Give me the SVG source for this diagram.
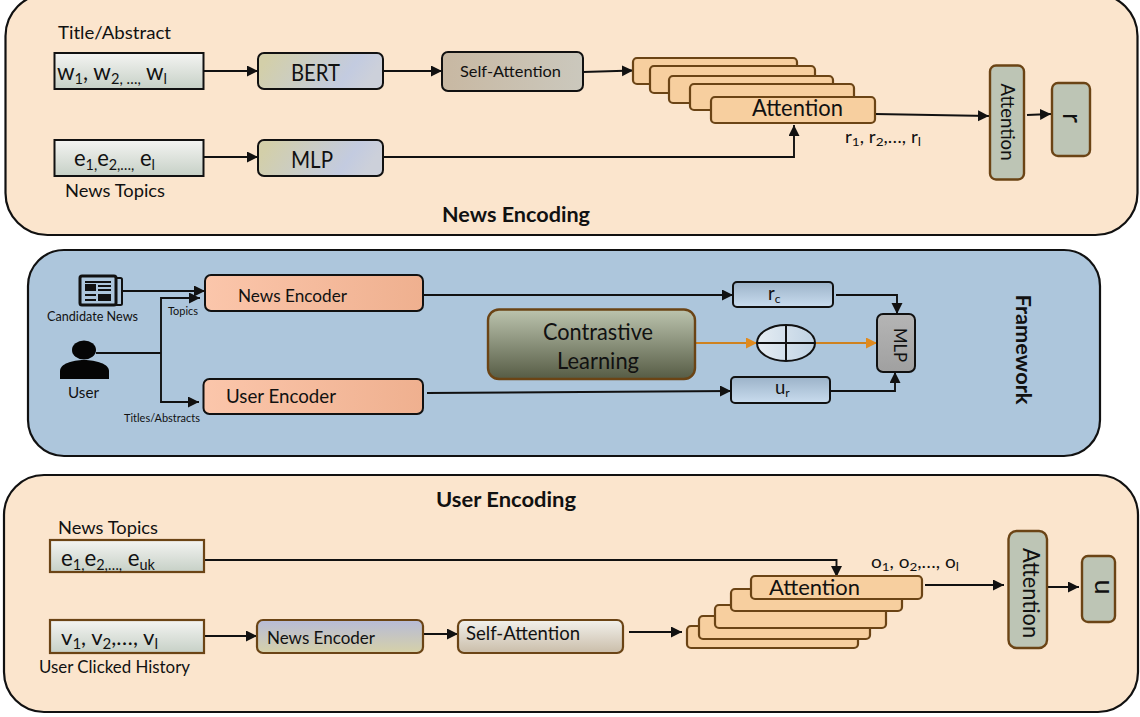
<svg xmlns="http://www.w3.org/2000/svg" width="1140" height="717" viewBox="0 0 1140 717">
<style>
text{font-family:Lato,"Liberation Sans",sans-serif;fill:#111}
.panel{stroke:#111;stroke-width:2.2}
.cream{fill:#fbe5cd}
.blue{fill:#adc6dc}
.k{stroke:#111;stroke-width:2}
.b{stroke:#6b4415;stroke-width:2.2}
.stk{fill:#f7cf9f;stroke:#6b4415;stroke-width:2.2}
.sage{fill:#bdc5b5;stroke:#6b4415;stroke-width:2.4}
.con{fill:none;stroke:#111;stroke-width:1.9;marker-end:url(#ah)}
.plain{fill:none;stroke:#111;stroke-width:1.9}
.org{fill:none;stroke:#cf821f;stroke-width:1.9;marker-end:url(#ao)}
</style>
<defs>
<marker id="ah" markerUnits="userSpaceOnUse" markerWidth="12" markerHeight="12" refX="11" refY="5.500" orient="auto"><path d="M0 0L11 5.500L0 11Z" fill="#111"/></marker>
<marker id="ao" markerUnits="userSpaceOnUse" markerWidth="12" markerHeight="12" refX="11" refY="5.500" orient="auto"><path d="M0 0L11 5.500L0 11Z" fill="#e08a1e"/></marker>
<linearGradient id="gInput" x1="0" y1="0" x2="0" y2="1"><stop offset="0" stop-color="#f4f4f2"/><stop offset="1" stop-color="#c6d0c6"/></linearGradient>
<linearGradient id="gBert" x1="0" y1="0" x2="1" y2="0.2"><stop offset="0.1" stop-color="#d3cfa9"/><stop offset="0.8" stop-color="#c3cbe0"/><stop offset="1" stop-color="#ccd0da"/></linearGradient>
<linearGradient id="gSelf" x1="0" y1="0" x2="1" y2="0"><stop offset="0" stop-color="#c8b8a2"/><stop offset="1" stop-color="#cbc8bd"/></linearGradient>
<linearGradient id="gEnc" x1="0" y1="0" x2="1" y2="0"><stop offset="0" stop-color="#fbc6ab"/><stop offset="1" stop-color="#efb08f"/></linearGradient>
<linearGradient id="gCon" x1="0" y1="0" x2="0" y2="1"><stop offset="0" stop-color="#bcc4ae"/><stop offset="1" stop-color="#565c45"/></linearGradient>
<linearGradient id="gSm" x1="0" y1="0" x2="0" y2="1"><stop offset="0" stop-color="#9cb3c9"/><stop offset="1" stop-color="#c9dcee"/></linearGradient>
<linearGradient id="gEll" x1="0" y1="0" x2="1" y2="0"><stop offset="0" stop-color="#e6edf3"/><stop offset="1" stop-color="#bfd2e3"/></linearGradient>
<linearGradient id="gMlp" x1="0" y1="0" x2="0" y2="1"><stop offset="0" stop-color="#b5b5b5"/><stop offset="1" stop-color="#a0a0a0"/></linearGradient>
<linearGradient id="gNe" x1="0" y1="0" x2="0" y2="1"><stop offset="0" stop-color="#b7bbd8"/><stop offset="1" stop-color="#d6d1a8"/></linearGradient>
<linearGradient id="gSa2" x1="0" y1="0" x2="0" y2="1"><stop offset="0" stop-color="#f2f1ec"/><stop offset="1" stop-color="#cabda9"/></linearGradient>
</defs>

<g id="panel-news-encoding">
<rect class="panel cream" x="5.5" y="-6" width="1132" height="241" rx="42"/>
<text x="442" y="222" font-size="21" font-weight="700" textLength="148" lengthAdjust="spacingAndGlyphs">News Encoding</text>
</g>
<g id="panel-framework">
<rect class="panel blue" x="28" y="250" width="1072" height="206" rx="36"/>
<text transform="translate(1016,349.500) rotate(90)" text-anchor="middle" font-size="20" font-weight="700" textLength="110" lengthAdjust="spacingAndGlyphs">Framework</text>
</g>
<g id="panel-user-encoding">
<rect class="panel cream" x="4" y="475" width="1134" height="237" rx="40"/>
<text x="436" y="507" font-size="21" font-weight="700" textLength="140" lengthAdjust="spacingAndGlyphs">User Encoding</text>
</g>

<g id="connectors">
<path class="con" d="M204 71H258"/>
<path class="con" d="M383 71H442"/>
<path class="con" d="M583 72L633 70.500"/>
<path class="con" d="M204 157H258"/>
<path class="con" d="M383 157H794V125"/>
<path class="con" d="M875 114L989 116"/>
<path class="con" d="M1027 115L1051 114"/>
<path class="con" d="M122 291H205"/>
<path class="plain" d="M96 353H161"/>
<path class="con" d="M161 353V298H200"/>
<path class="con" d="M161 353V402H199"/>
<path class="con" d="M423 295H733"/>
<path class="con" d="M427 393L731 391"/>
<path class="con" d="M836 295H897V314"/>
<path class="con" d="M830 391H895V372"/>
<path class="org" d="M695 343H757"/>
<path class="org" d="M815 343H877"/>
<path class="con" d="M205 560H836.500V577"/>
<path class="con" d="M204 636H257"/>
<path class="con" d="M418 634H458"/>
<path class="con" d="M629 632H682"/>
<path class="con" d="M925 585H1004"/>
<path class="con" d="M1045 587H1079"/>
</g>

<g id="label-title-abstract"><text x="58" y="39" font-size="18" textLength="113" lengthAdjust="spacingAndGlyphs">Title/Abstract</text></g>
<g id="input-w">
<rect class="k" x="54.500" y="53" width="149" height="36" fill="url(#gInput)"/>
<text x="57" y="80" font-size="23" textLength="110" lengthAdjust="spacingAndGlyphs">w<tspan font-size="15" dy="4">1</tspan><tspan dy="-4">, w</tspan><tspan font-size="15" dy="4">2, …,</tspan><tspan dy="-4"> w</tspan><tspan font-size="15" dy="4">l</tspan></text>
</g>
<g id="bert">
<rect class="k" x="258" y="53" width="125" height="36" rx="6" fill="url(#gBert)"/>
<text x="291" y="80.500" font-size="23" textLength="49" lengthAdjust="spacingAndGlyphs">BERT</text>
</g>
<g id="self-attention-top">
<rect class="k" x="442" y="52" width="141" height="39" rx="6" fill="url(#gSelf)"/>
<text x="460" y="77" font-size="16" textLength="101" lengthAdjust="spacingAndGlyphs">Self-Attention</text>
</g>
<g id="attention-stack-top">
<rect class="stk" x="633" y="58" width="164" height="26" rx="4"/>
<rect class="stk" x="650" y="66" width="165" height="27" rx="4"/>
<rect class="stk" x="669" y="76" width="164" height="27" rx="4"/>
<rect class="stk" x="690" y="84" width="164" height="26" rx="4"/>
<rect class="stk" x="711" y="97" width="164" height="26" rx="4"/>
<text x="752" y="115.500" font-size="22.500" textLength="91" lengthAdjust="spacingAndGlyphs">Attention</text>
</g>
<g id="label-r-list"><text x="845" y="143" font-size="16.500" textLength="76" lengthAdjust="spacingAndGlyphs">r<tspan font-size="12" dy="3">1</tspan><tspan dy="-3">, r</tspan><tspan font-size="12" dy="3">2</tspan><tspan dy="-3">,…, r</tspan><tspan font-size="12" dy="3">l</tspan></text></g>
<g id="attention-top">
<rect class="sage" x="990" y="65.500" width="34" height="114" rx="6"/>
<text transform="translate(1000.500,122) rotate(90)" text-anchor="middle" font-size="19.500" textLength="77" lengthAdjust="spacingAndGlyphs">Attention</text>
</g>
<g id="r-output">
<rect class="sage" x="1052" y="83" width="38" height="73" rx="6"/>
<text transform="translate(1063,118) rotate(90)" text-anchor="middle" font-size="27">r</text>
</g>
<g id="input-e">
<rect class="k" x="54.500" y="140" width="149" height="36" fill="url(#gInput)"/>
<text x="74" y="166" font-size="23" textLength="81" lengthAdjust="spacingAndGlyphs">e<tspan font-size="15" dy="4">1,</tspan><tspan dy="-4">e</tspan><tspan font-size="15" dy="4">2,…,</tspan><tspan dy="-4"> e</tspan><tspan font-size="15" dy="4">l</tspan></text>
</g>
<g id="mlp-top">
<rect class="k" x="258" y="140" width="125" height="36" rx="6" fill="url(#gBert)"/>
<text x="291" y="167.500" font-size="23" textLength="42" lengthAdjust="spacingAndGlyphs">MLP</text>
</g>
<g id="label-news-topics-top"><text x="65" y="197" font-size="18" textLength="100" lengthAdjust="spacingAndGlyphs">News Topics</text></g>

<g id="candidate-news">
<rect x="112" y="278" width="10" height="27" rx="1.500" fill="#adc6dc" stroke="#111" stroke-width="2"/>
<rect x="80" y="276" width="36" height="29" rx="2" fill="#adc6dc" stroke="#111" stroke-width="3"/>
<rect x="85" y="281" width="26" height="2" fill="#111"/>
<rect x="85" y="284" width="11" height="7" fill="#111"/>
<rect x="98" y="285" width="13" height="2" fill="#111"/>
<rect x="98" y="289" width="13" height="2" fill="#111"/>
<rect x="85" y="294" width="11" height="2" fill="#111"/>
<rect x="85" y="299" width="11" height="2" fill="#111"/>
<rect x="98" y="294" width="13" height="7" fill="#111"/>
<text x="47" y="321" font-size="13" textLength="91" lengthAdjust="spacingAndGlyphs">Candidate News</text>
</g>
<g id="user">
<ellipse cx="84" cy="350" rx="12" ry="9.500" fill="#050505"/>
<path d="M60 379V371C60 364 72 360 84 360C96 360 109 364 109 371V379Z" fill="#050505"/>
<text x="68" y="398" font-size="16" textLength="31" lengthAdjust="spacingAndGlyphs">User</text>
</g>
<g id="label-topics"><text x="168" y="315" font-size="11.500" textLength="30" lengthAdjust="spacingAndGlyphs">Topics</text></g>
<g id="label-titles"><text x="124" y="422" font-size="11.500" textLength="76" lengthAdjust="spacingAndGlyphs">Titles/Abstracts</text></g>
<g id="news-encoder-mid">
<rect class="k" x="205" y="275" width="218" height="36" rx="6" fill="url(#gEnc)"/>
<text x="238" y="302" font-size="17.500" textLength="109" lengthAdjust="spacingAndGlyphs">News Encoder</text>
</g>
<g id="user-encoder">
<rect class="k" x="203.500" y="379" width="219.500" height="35" rx="6" fill="url(#gEnc)"/>
<text x="226" y="403" font-size="19" textLength="110" lengthAdjust="spacingAndGlyphs">User Encoder</text>
</g>
<g id="contrastive-learning">
<rect x="488" y="309.500" width="207" height="69.500" rx="11" fill="url(#gCon)" stroke="#6b4415" stroke-width="2.400"/>
<text x="543" y="340" font-size="23.500" textLength="110" lengthAdjust="spacingAndGlyphs">Contrastive</text>
<text x="557" y="369" font-size="23.500" textLength="82" lengthAdjust="spacingAndGlyphs">Learning</text>
</g>
<g id="rc">
<rect class="k" x="733" y="282" width="100" height="25" rx="4" fill="url(#gSm)"/>
<text x="768" y="300" font-size="18.500">r<tspan font-size="12" dy="3">c</tspan></text>
</g>
<g id="ur">
<rect class="k" x="731" y="377" width="99" height="26" rx="4" fill="url(#gSm)"/>
<text x="775" y="394" font-size="18.500">u<tspan font-size="12" dy="3">r</tspan></text>
</g>
<g id="plus">
<ellipse cx="786" cy="343" rx="29" ry="18" fill="url(#gEll)" stroke="#111" stroke-width="2"/>
<path d="M757 343H815M786 325V361" fill="none" stroke="#111" stroke-width="2"/>
</g>
<g id="mlp-mid">
<rect class="k" x="877" y="314" width="38" height="58" rx="6" fill="url(#gMlp)"/>
<text transform="translate(894,345) rotate(90)" text-anchor="middle" font-size="18" textLength="34" lengthAdjust="spacingAndGlyphs">MLP</text>
</g>

<g id="label-news-topics-bottom"><text x="58" y="534" font-size="18" textLength="100" lengthAdjust="spacingAndGlyphs">News Topics</text></g>
<g id="input-e-uk">
<rect class="b" x="50" y="540" width="154" height="32" fill="url(#gInput)"/>
<text x="61" y="566" font-size="23" textLength="94" lengthAdjust="spacingAndGlyphs">e<tspan font-size="15" dy="4">1,</tspan><tspan dy="-4">e</tspan><tspan font-size="15" dy="4">2,…,</tspan><tspan dy="-4"> e</tspan><tspan font-size="15" dy="4">uk</tspan></text>
</g>
<g id="input-v">
<rect class="b" x="50" y="620" width="154" height="33" fill="url(#gInput)"/>
<text x="61" y="645" font-size="22" textLength="97" lengthAdjust="spacingAndGlyphs">v<tspan font-size="15" dy="4">1</tspan><tspan dy="-4">, v</tspan><tspan font-size="15" dy="4">2</tspan><tspan dy="-4">,…, v</tspan><tspan font-size="15" dy="4">l</tspan></text>
</g>
<g id="label-history"><text x="39" y="673" font-size="17" textLength="151" lengthAdjust="spacingAndGlyphs">User Clicked History</text></g>
<g id="news-encoder-bottom">
<rect class="b" x="257" y="620" width="166" height="33" rx="6" fill="url(#gNe)"/>
<text x="267" y="644" font-size="16.500" textLength="108" lengthAdjust="spacingAndGlyphs">News Encoder</text>
</g>
<g id="self-attention-bottom">
<rect class="b" x="458" y="620" width="165" height="33" rx="6" fill="url(#gSa2)"/>
<text x="466" y="640" font-size="19" textLength="114" lengthAdjust="spacingAndGlyphs">Self-Attention</text>
</g>
<g id="attention-stack-bottom">
<rect class="stk" x="687" y="626" width="171" height="22" rx="4"/>
<rect class="stk" x="699" y="616" width="171" height="23" rx="4"/>
<rect class="stk" x="715" y="605" width="171" height="23" rx="4"/>
<rect class="stk" x="731" y="589" width="171" height="22" rx="4"/>
<rect class="stk" x="751" y="576" width="171" height="23" rx="4"/>
<text x="769" y="595" font-size="21.500" textLength="91" lengthAdjust="spacingAndGlyphs">Attention</text>
</g>
<g id="label-o-list"><text x="871" y="568" font-size="17" textLength="88" lengthAdjust="spacingAndGlyphs">o<tspan font-size="12" dy="3">1</tspan><tspan dy="-3">, o</tspan><tspan font-size="12" dy="3">2</tspan><tspan dy="-3">,…, o</tspan><tspan font-size="12" dy="3">l</tspan></text></g>
<g id="attention-bottom">
<rect class="sage" x="1008.500" y="531" width="38.500" height="117" rx="8"/>
<text transform="translate(1022.500,593) rotate(90)" text-anchor="middle" font-size="23.500" textLength="90" lengthAdjust="spacingAndGlyphs">Attention</text>
</g>
<g id="u-output">
<rect class="sage" x="1082" y="556" width="33" height="66" rx="6"/>
<text transform="translate(1095,587) rotate(90)" text-anchor="middle" font-size="27">u</text>
</g>
</svg>
